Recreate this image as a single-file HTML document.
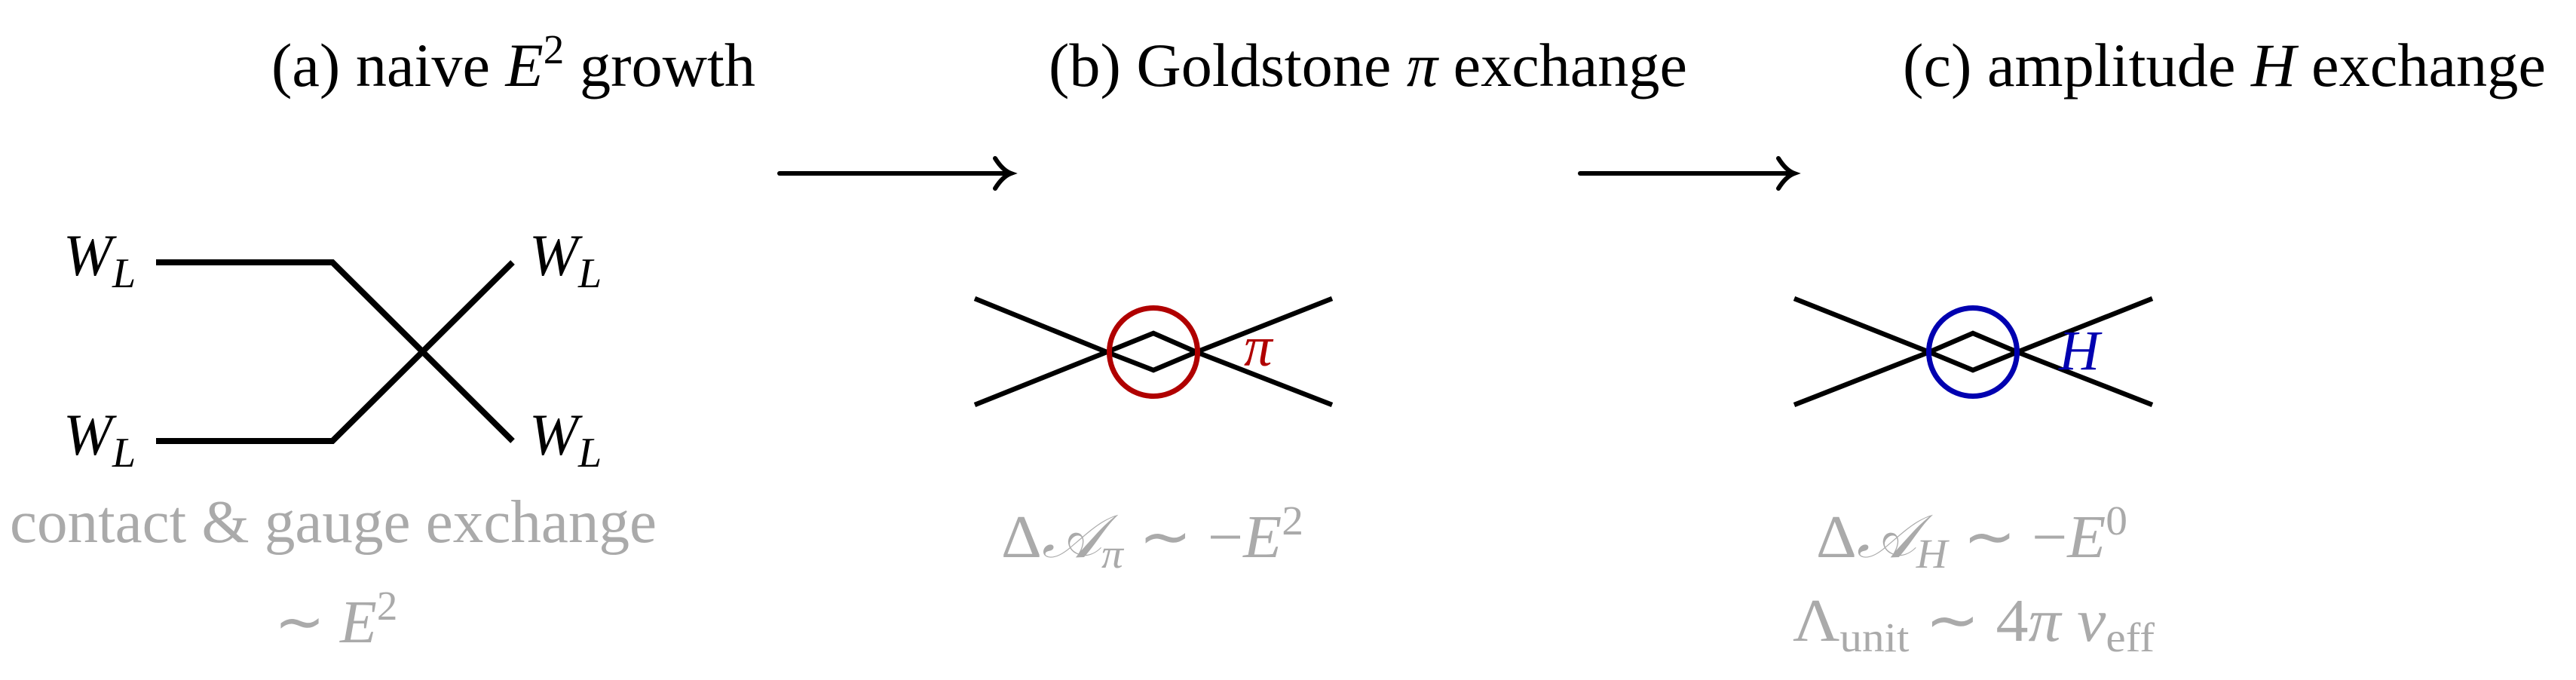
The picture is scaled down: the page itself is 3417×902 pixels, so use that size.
<!DOCTYPE html>
<html><head><meta charset="utf-8"><style>
html,body{margin:0;padding:0;background:#fff;}
svg{display:block;}
text{font-family:"Liberation Serif",serif;}
</style></head><body>
<svg width="3417" height="902" viewBox="0 0 3417 902" xmlns="http://www.w3.org/2000/svg">
<g font-size="82" fill="#000">
<text x="360" y="114" textLength="642" lengthAdjust="spacingAndGlyphs">(a) naive <tspan font-style="italic">E</tspan><tspan font-size="55" dy="-30">2</tspan><tspan dy="30"> growth</tspan></text>
<text x="1391" y="114" textLength="847" lengthAdjust="spacingAndGlyphs">(b) Goldstone <tspan font-style="italic">π</tspan> exchange</text>
<text x="2524" y="114" textLength="853" lengthAdjust="spacingAndGlyphs">(c) amplitude <tspan font-style="italic">H</tspan> exchange</text>
</g>
<!-- arrows -->
<g stroke="#000" stroke-width="6" fill="none" stroke-linecap="round">
<line x1="1034" y1="230" x2="1338" y2="230"/>
<path d="M1320 210 Q1330 226 1341 230 Q1330 234 1320 250"/>
<line x1="2096" y1="230" x2="2378" y2="230"/>
<path d="M2359 210 Q2369 226 2380 230 Q2369 234 2359 250"/>
</g>
<!-- panel a -->
<g stroke="#000" stroke-width="8" fill="none">
<polyline points="207,348 441,348 680,585"/>
<polyline points="207,585 441,585 680,348"/>
</g>
<g font-size="78" font-style="italic">
<text x="84" y="365">W<tspan font-size="56" dy="16">L</tspan></text>
<text x="84" y="603">W<tspan font-size="56" dy="16">L</tspan></text>
<text x="702" y="365">W<tspan font-size="56" dy="16">L</tspan></text>
<text x="702" y="603">W<tspan font-size="56" dy="16">L</tspan></text>
</g>
<g fill="#aaaaaa" font-size="80">
<text x="13" y="719" textLength="858" lengthAdjust="spacingAndGlyphs">contact &amp; gauge exchange</text>
<text x="364" y="852">∼ <tspan font-style="italic">E</tspan><tspan font-size="55" dy="-30">2</tspan></text>
</g>
<!-- panel b -->
<g stroke="#000" stroke-width="6.5" fill="none">
<polyline points="1293,396 1468,467 1293,537"/>
<polyline points="1767,396 1587,467 1767,537"/>
<polygon points="1468,467 1530,442 1587,467 1530,491"/>
</g>
<circle cx="1530" cy="467" r="58.5" stroke="#b00000" stroke-width="7" fill="none"/>
<text x="1650" y="485" font-size="75" font-style="italic" fill="#b00000">π</text>
<g fill="#aaaaaa" font-size="80">
<text x="1328" y="739" textLength="401" lengthAdjust="spacingAndGlyphs">Δ<tspan font-style="italic">𝒜</tspan><tspan font-size="55" font-style="italic" dy="14">π</tspan><tspan dy="-14"> ∼ −</tspan><tspan font-style="italic">E</tspan><tspan font-size="55" dy="-30">2</tspan></text>
</g>
<!-- panel c -->
<g stroke="#000" stroke-width="6.5" fill="none">
<polyline points="2380,396 2559,467 2380,537"/>
<polyline points="2855,396 2676,467 2855,537"/>
<polygon points="2559,467 2617,442 2676,467 2617,491"/>
</g>
<circle cx="2617" cy="467" r="58.5" stroke="#0000b0" stroke-width="7" fill="none"/>
<text x="2731" y="490" font-size="75" font-style="italic" fill="#0000b0">H</text>
<g fill="#aaaaaa" font-size="80">
<text x="2409" y="739" textLength="413" lengthAdjust="spacingAndGlyphs">Δ<tspan font-style="italic">𝒜</tspan><tspan font-size="55" font-style="italic" dy="14">H</tspan><tspan dy="-14"> ∼ −</tspan><tspan font-style="italic">E</tspan><tspan font-size="55" dy="-30">0</tspan></text>
<text x="2378" y="850" textLength="480" lengthAdjust="spacingAndGlyphs">Λ<tspan font-size="55" dy="14">unit</tspan><tspan dy="-14"> ∼ 4</tspan><tspan font-style="italic">π v</tspan><tspan font-size="55" dy="14">eff</tspan></text>
</g>
</svg>
</body></html>
